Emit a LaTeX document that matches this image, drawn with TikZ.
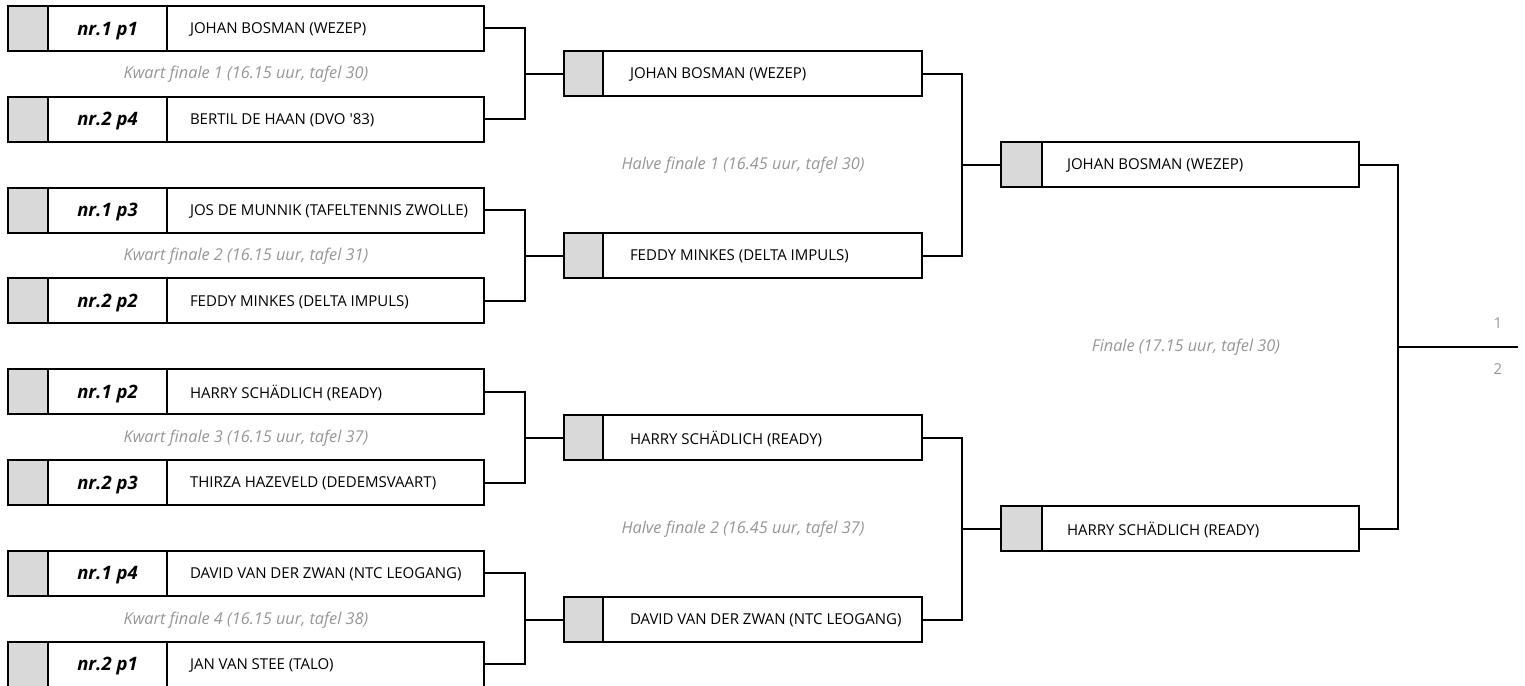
\documentclass[tikz,border=0pt]{standalone}
\usepackage{fontspec}
\setmainfont{Open Sans}[Ligatures=TeXOff]
\usetikzlibrary{calc}
\definecolor{cellgray}{HTML}{D9D9D9}
\definecolor{captgray}{HTML}{969696}
\tikzset{
  every node/.style={inner sep=0pt, outer sep=0pt},
  cell/.style={draw=black, line width=2pt, rectangle, minimum height=45pt, anchor=north west},
  graycell/.style={cell, fill=cellgray},
  labcell/.style={cell, font=\fontsize{18.5}{21}\selectfont\bfseries\itshape, text depth=0pt},
  namecell/.style={cell, font=\fontsize{15}{18}\selectfont, text depth=0pt},
  caption/.style={font=\fontsize{16.3}{19}\selectfont\itshape, text=captgray},
  place/.style={font=\fontsize{15}{18}\selectfont, text=captgray},
  conn/.style={draw=black, line width=2pt},
}
\newcommand{\qfentry}[4]{% id, top y, label, name
  \node[graycell, minimum width=40pt] (#1g) at (8,#2) {};
  \node[labcell, minimum width=119pt] (#1l) at (#1g.north east) {#3};
  \node[namecell, inner xsep=23pt] (#1n) at (#1l.north east) {\makebox[271pt][l]{#4}};
}
\newcommand{\sfentry}[4]{% id, x, top y, name
  \node[graycell, minimum width=39pt] (#1g) at (#2,#3) {};
  \node[namecell, inner xsep=27pt] (#1n) at (#1g.north east) {\makebox[265pt][l]{#4}};
}
\newcommand{\fentry}[4]{%
  \node[graycell, minimum width=41pt] (#1g) at (#2,#3) {};
  \node[namecell, inner xsep=25pt] (#1n) at (#1g.north east) {\makebox[267pt][l]{#4}};
}
\begin{document}
\begin{tikzpicture}[x=1pt, y=-1pt]
\useasboundingbox (0,0) rectangle (1525,685);
% quarter finals
\qfentry{qa}{6}{nr.1 p1}{JOHAN BOSMAN (WEZEP)}
\qfentry{qb}{96.8}{nr.2 p4}{BERTIL DE HAAN (DVO '83)}
\qfentry{qc}{187.6}{nr.1 p3}{JOS DE MUNNIK (TAFELTENNIS ZWOLLE)}
\qfentry{qd}{278.4}{nr.2 p2}{FEDDY MINKES (DELTA IMPULS)}
\qfentry{qe}{369.2}{nr.1 p2}{HARRY SCHÄDLICH (READY)}
\qfentry{qf}{460}{nr.2 p3}{THIRZA HAZEVELD (DEDEMSVAART)}
\qfentry{qg}{550.8}{nr.1 p4}{DAVID VAN DER ZWAN (NTC LEOGANG)}
\qfentry{qh}{641.6}{nr.2 p1}{JAN VAN STEE (TALO)}
% semi finals
\sfentry{sa}{564}{51}{JOHAN BOSMAN (WEZEP)}
\sfentry{sb}{564}{233}{FEDDY MINKES (DELTA IMPULS)}
\sfentry{sc}{564}{415}{HARRY SCHÄDLICH (READY)}
\sfentry{sd}{564}{597}{DAVID VAN DER ZWAN (NTC LEOGANG)}
% finals
\fentry{fa}{1001}{142}{JOHAN BOSMAN (WEZEP)}
\fentry{fb}{1001}{506}{HARRY SCHÄDLICH (READY)}
% captions
\node[caption] (c1) at (246,74) {Kwart finale 1 (16.15 uur, tafel 30)};
\node[caption] (c2) at (246,256) {Kwart finale 2 (16.15 uur, tafel 31)};
\node[caption] (c3) at (246,438) {Kwart finale 3 (16.15 uur, tafel 37)};
\node[caption] (c4) at (246,620) {Kwart finale 4 (16.15 uur, tafel 38)};
\node[caption] (c5) at (743,165) {Halve finale 1 (16.45 uur, tafel 30)};
\node[caption] (c6) at (743,529) {Halve finale 2 (16.45 uur, tafel 37)};
\node[caption] (c7) at (1186,347) {Finale (17.15 uur, tafel 30)};
% junctions
\path (sag.west) ++(-39,0) coordinate (ja);
\path (sbg.west) ++(-39,0) coordinate (jb);
\path (scg.west) ++(-39,0) coordinate (jc);
\path (sdg.west) ++(-39,0) coordinate (jd);
\path (fag.west) ++(-39,0) coordinate (je);
\path (fbg.west) ++(-39,0) coordinate (jf);
\coordinate (jg) at (1398,346.5);
\coordinate (endc) at (1518,346.5);
% connectors
\draw[conn] (qan.east) -| (ja) |- (qbn.east);
\draw[conn] (ja) -- (sag.west);
\draw[conn] (qcn.east) -| (jb) |- (qdn.east);
\draw[conn] (jb) -- (sbg.west);
\draw[conn] (qen.east) -| (jc) |- (qfn.east);
\draw[conn] (jc) -- (scg.west);
\draw[conn] (qgn.east) -| (jd) |- (qhn.east);
\draw[conn] (jd) -- (sdg.west);
\draw[conn] (san.east) -| (je) |- (sbn.east);
\draw[conn] (je) -- (fag.west);
\draw[conn] (scn.east) -| (jf) |- (sdn.east);
\draw[conn] (jf) -- (fbg.west);
\draw[conn] (fan.east) -| (jg) |- (fbn.east);
\draw[conn] (jg) -- (endc);
\node[place] (p1) at (1498,323) {1};
\node[place] (p2) at (1498,369) {2};
\end{tikzpicture}
\end{document}
